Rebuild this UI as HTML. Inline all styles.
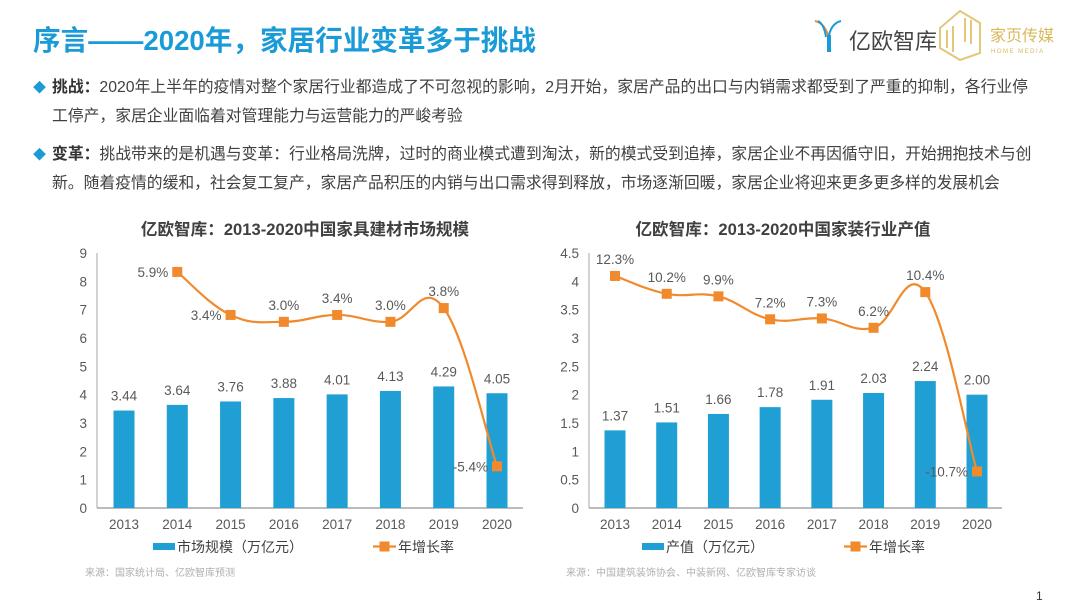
<!DOCTYPE html>
<html><head><meta charset="utf-8">
<style>
html,body{margin:0;padding:0;background:#fff;}
body{width:1080px;height:608px;position:relative;overflow:hidden;font-family:"Liberation Sans","Noto Sans CJK SC",sans-serif;}
.abs{position:absolute;}
#title{left:33px;top:18px;font-size:27.6px;font-weight:bold;color:#1a9bd7;white-space:nowrap;}
.para{left:33px;font-size:15.8px;color:#404040;white-space:nowrap;line-height:29px;}
.para b{color:#333;}
.dia{color:#1a9bd7;font-size:13px;margin-right:6px;}
</style></head><body>
<div id="title" class="abs">序言——2020年，家居行业变革多于挑战</div>
<div class="abs" style="left:812px;top:15px;width:145px;height:40px;">
  <svg width="145" height="40"><g fill="none" stroke-width="2"><path d="M3 6 Q12 8 16 20" stroke="#f08a2c"/><path d="M6 6 Q12 9 14 22" stroke="#1a9bd7"/><path d="M29 6 Q20 8 17 20" stroke="#1a9bd7"/><path d="M17 20 L17 37" stroke="#1a9bd7" stroke-width="4"/></g>
  <text x="37" y="34" font-size="22" fill="#444" font-family="Liberation Sans,Noto Sans CJK SC,sans-serif">亿欧智库</text></svg>
</div>
<div class="abs" style="left:935px;top:8px;width:145px;height:55px;">
  <svg width="145" height="55"><g fill="none" stroke="#e2c87a" stroke-width="2"><path d="M5 20 L25 3 L45 15 L45 45 L25 52 L5 40 Z"/><path d="M12 22 L12 40 M18 18 L18 44 M30 10 L30 34 M36 12 L36 36"/></g>
  <text x="55" y="33" font-size="16" fill="#d9b85c" font-family="Liberation Sans,Noto Sans CJK SC,sans-serif">家页传媒</text>
  <text x="56" y="45" font-size="6" fill="#d9b85c" letter-spacing="1.5" font-family="Liberation Sans,sans-serif">HOME MEDIA</text></svg>
</div>
<div class="abs para" style="top:73px;"><span class="dia">◆</span><b>挑战：</b>2020年上半年的疫情对整个家居行业都造成了不可忽视的影响，2月开始，家居产品的出口与内销需求都受到了严重的抑制，各行业停<br><span style="margin-left:19px">工停产，家居企业面临着对管理能力与运营能力的严峻考验</span></div>
<div class="abs para" style="top:140px;"><span class="dia">◆</span><b>变革：</b>挑战带来的是机遇与变革：行业格局洗牌，过时的商业模式遭到淘汰，新的模式受到追捧，家居企业不再因循守旧，开始拥抱技术与创<br><span style="margin-left:19px">新。随着疫情的缓和，社会复工复产，家居产品积压的内销与出口需求得到释放，市场逐渐回暖，家居企业将迎来更多更多样的发展机会</span></div>

<svg id="chart" class="abs" style="left:0;top:0" width="1080" height="608"></svg>
<div class="abs" style="left:1036px;top:589px;font-size:12px;color:#333">1</div>

<script>
// Left chart data
const leftCategories = ["2013","2014","2015","2016","2017","2018","2019","2020"];
const leftBarValues = [3.44,3.64,3.76,3.88,4.01,4.13,4.29,4.05];
const leftBarLabels = ["3.44","3.64","3.76","3.88","4.01","4.13","4.29","4.05"];
const leftGrowth = [null,5.9,3.4,3.0,3.4,3.0,3.8,-5.4];
const leftGrowthLabels = ["","5.9%","3.4%","3.0%","3.4%","3.0%","3.8%","-5.4%"];
const leftTicks = ["0","1","2","3","4","5","6","7","8","9"];
// Right chart data
const rightCategories = ["2013","2014","2015","2016","2017","2018","2019","2020"];
const rightBarValues = [1.37,1.51,1.66,1.78,1.91,2.03,2.24,2.00];
const rightBarLabels = ["1.37","1.51","1.66","1.78","1.91","2.03","2.24","2.00"];
const rightGrowth = [12.3,10.2,9.9,7.2,7.3,6.2,10.4,-10.7];
const rightGrowthLabels = ["12.3%","10.2%","9.9%","7.2%","7.3%","6.2%","10.4%","-10.7%"];
const rightTicks = ["0","0.5","1","1.5","2","2.5","3","3.5","4","4.5"];

const NS="http://www.w3.org/2000/svg";
const svg=document.getElementById('chart');
const FONT='Liberation Sans, Noto Sans CJK SC, sans-serif';
function mk(tag,attrs,parent){const e=document.createElementNS(NS,tag);for(const k in attrs)e.setAttribute(k,attrs[k]);(parent||svg).appendChild(e);return e;}
function txt(x,y,s,size,fill,anchor,parent,weight){const t=mk('text',{x:x,y:y,'font-size':size,fill:fill,'text-anchor':anchor||'middle','font-family':FONT,'font-weight':weight||'normal'},parent);t.textContent=s;return t;}

function drawChart(cfg){
  const g=mk('g',{});
  
  
  const y=v=>cfg.y0-(v-cfg.ymin)/(cfg.ymax-cfg.ymin)*(cfg.y0-cfg.ytop);
  const y2=v=>cfg.y0-(v-cfg.y2min)/(cfg.y2max-cfg.y2min)*(cfg.y0-cfg.ytop);
  const n=cfg.cats.length;
  const x=i=>cfg.xFirst+i*(cfg.xLast-cfg.xFirst)/(n-1);
  const tt=txt(cfg.titleX,235,cfg.title,16.6,'#404040','middle',g,'bold');
  
  
  cfg.ticks.forEach(s=>{const t=txt(cfg.axisX-10,y(parseFloat(s))+5,s,13.5,'#595959','end',g);
    
    });
  const ya=mk('line',{x1:cfg.axisX,y1:cfg.ytop,x2:cfg.axisX,y2:cfg.y0,stroke:'#a6a6a6','stroke-width':1},g);
  
  
  const xa=mk('line',{x1:cfg.axisX,y1:cfg.y0,x2:cfg.axisEnd,y2:cfg.y0,stroke:'#a6a6a6','stroke-width':1.5},g);
  
  
  cfg.bars.forEach((v,i)=>{
    const r=mk('rect',{x:x(i)-10.5,y:y(v),width:21,height:cfg.y0-y(v),fill:'#1f9fd4'},g);
    
    
    const t=txt(x(i),y(v)-10,cfg.barLabels[i],13.5,'#595959','middle',g);
    
    
    const c=txt(x(i),529,cfg.cats[i],13.5,'#595959','middle',g);
    
    
  });
  const pts=[];cfg.growth.forEach((v,i)=>{if(v!==null)pts.push([x(i),y2(v),i]);});
  let d='M'+pts[0][0]+' '+pts[0][1];
  for(let k=0;k<pts.length-1;k++){
    const p0=pts[Math.max(0,k-1)],p1=pts[k],p2=pts[k+1],p3=pts[Math.min(pts.length-1,k+2)];
    const t=0.2;
    const c1x=p1[0]+(p2[0]-p0[0])*t,c1y=p1[1]+(p2[1]-p0[1])*t;
    const c2x=p2[0]-(p3[0]-p1[0])*t,c2y=p2[1]-(p3[1]-p1[1])*t;
    d+=' C'+c1x+' '+c1y+' '+c2x+' '+c2y+' '+p2[0]+' '+p2[1];
  }
  const ln=mk('path',{d:d,fill:'none',stroke:'#f08a2c','stroke-width':2.2},g);
  
  
  pts.forEach(p=>{
    const m=mk('rect',{x:p[0]-5,y:p[1]-5,width:10,height:10,fill:'#f08a2c'},g);
    
    
    const pos=cfg.labelPos[p[2]];
    let lx=p[0],ly=p[1]-12,an='middle';
    if(pos==='left'){lx=p[0]-9;ly=p[1]+5;an='end';}
    const t=txt(lx,ly,cfg.growthLabels[p[2]],13.5,'#595959',an,g);
    
    
  });
  const lr=mk('rect',{x:cfg.legX,y:543,width:22,height:7,fill:'#1f9fd4'},g);
  
  
  const lt=txt(cfg.legX+24,552,cfg.barLegend,14,'#404040','start',g);
  
  
  const ll=mk('line',{x1:cfg.leg2X,y1:546.5,x2:cfg.leg2X+23,y2:546.5,stroke:'#f08a2c','stroke-width':2.2},g);
  
  
  mk('rect',{x:cfg.leg2X+6.5,y:541.5,width:10,height:10,fill:'#f08a2c'},g);
  const lt2=txt(cfg.leg2X+25,552,'年增长率',14,'#404040','start',g);
  
  
  const src=txt(cfg.srcX,576,cfg.source,10,'#b0b0b0','start',g);
  
  
}

drawChart({name:'furniture-market-chart',title:'亿欧智库：2013-2020中国家具建材市场规模',titleX:305,
  cats:leftCategories,bars:leftBarValues,barLabels:leftBarLabels,growth:leftGrowth,growthLabels:leftGrowthLabels,ticks:leftTicks,
  ymin:0,ymax:9,y2min:-7.82,y2max:7.0,y0:508,ytop:253,axisX:97,axisEnd:523,xFirst:124,xLast:497,
  labelPos:['', 'left','left','up','up','up','up','left'],
  legX:153,leg2X:373,barLegend:'市场规模（万亿元）',srcX:85,source:'来源：国家统计局、亿欧智库预测'});
drawChart({name:'home-decoration-output-chart',title:'亿欧智库：2013-2020中国家装行业产值',titleX:783,
  cats:rightCategories,bars:rightBarValues,barLabels:rightBarLabels,growth:rightGrowth,growthLabels:rightGrowthLabels,ticks:rightTicks,
  ymin:0,ymax:4.5,y2min:-15,y2max:15,y0:508,ytop:253,axisX:589,axisEnd:1002,xFirst:615,xLast:977,
  labelPos:['up','up','up','up','up','up','up','left'],
  legX:642,leg2X:844,barLegend:'产值（万亿元）',srcX:566,source:'来源：中国建筑装饰协会、中装新网、亿欧智库专家访谈'});
</script>
</body></html>
